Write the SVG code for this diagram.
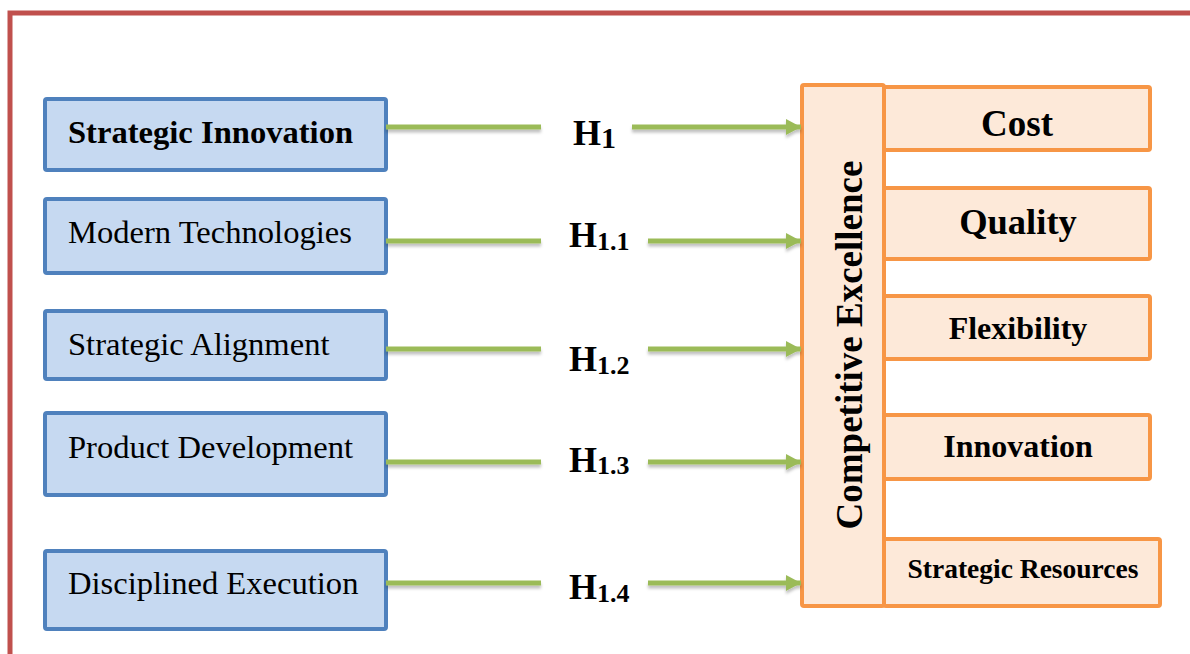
<svg xmlns="http://www.w3.org/2000/svg" width="1190" height="654" viewBox="0 0 1190 654">
<style>
.frame{fill:none;stroke:#C0504D;stroke-width:5}
.ind{fill:#C6D9F1;stroke:#4F81BD;stroke-width:4}
.dep{fill:#FDE9D9;stroke:#F79646;stroke-width:4}
.t{font-family:"Liberation Serif","Times New Roman",serif;fill:#000}
.reg{font-size:32.6px}
.bold{font-weight:bold}
.conn{stroke:#9BBB59;stroke-width:5;fill:none}
.hl{font-family:"Liberation Serif","Times New Roman",serif;font-weight:bold;font-size:36px;fill:#000}
</style>
<defs>
<marker id="ah" markerWidth="16" markerHeight="16" viewBox="0 0 16 16" refX="15" refY="8" orient="auto" markerUnits="userSpaceOnUse">
<path d="M0,0 L15,8 L0,16 Z" fill="#9BBB59"/>
</marker>
<filter id="sh" x="-5%" y="-50%" width="110%" height="250%">
<feDropShadow dx="0" dy="3" stdDeviation="1.5" flood-color="#000" flood-opacity="0.25"/>
</filter>
</defs>
<rect width="1190" height="654" fill="#fff"/>
<path class="frame" d="M10,660 L10,13 L1200,13"/>

<g id="strategic-innovation">
<rect class="ind" x="45" y="99" width="341" height="71" rx="2"/>
<text class="t reg bold" x="68" y="143" font-size="32">Strategic Innovation</text>
</g>
<g id="modern-technologies">
<rect class="ind" x="45" y="199" width="341" height="74" rx="2"/>
<text class="t reg" x="68" y="243">Modern Technologies</text>
</g>
<g id="strategic-alignment">
<rect class="ind" x="45" y="311" width="341" height="68" rx="2"/>
<text class="t reg" x="68" y="355">Strategic Alignment</text>
</g>
<g id="product-development">
<rect class="ind" x="45" y="413" width="341" height="82" rx="2"/>
<text class="t reg" x="68" y="458">Product Development</text>
</g>
<g id="disciplined-execution">
<rect class="ind" x="45" y="551" width="341" height="78" rx="2"/>
<text class="t reg" x="68" y="594">Disciplined Execution</text>
</g>

<g id="competitive-excellence">
<rect class="dep" x="802" y="85" width="82" height="521" rx="2"/>
<text class="t bold" font-size="37" text-anchor="middle" transform="translate(862,345) rotate(-90)">Competitive Excellence</text>
</g>
<g id="cost">
<rect class="dep" x="884" y="87" width="266" height="63" rx="2"/>
<text class="t bold" font-size="37" text-anchor="middle" x="1017" y="136">Cost</text>
</g>
<g id="quality">
<rect class="dep" x="884" y="188" width="266" height="71" rx="2"/>
<text class="t bold" font-size="36.5" text-anchor="middle" x="1018" y="234">Quality</text>
</g>
<g id="flexibility">
<rect class="dep" x="884" y="296" width="266" height="63" rx="2"/>
<text class="t bold" font-size="32" text-anchor="middle" x="1018" y="339">Flexibility</text>
</g>
<g id="innovation">
<rect class="dep" x="884" y="415" width="266" height="64" rx="2"/>
<text class="t bold" font-size="32" text-anchor="middle" x="1018" y="457">Innovation</text>
</g>
<g id="strategic-resources">
<rect class="dep" x="884" y="539" width="276" height="67" rx="2"/>
<text class="t bold" font-size="27.5" text-anchor="middle" x="1023" y="578">Strategic Resources</text>
</g>

<g id="connectors" filter="url(#sh)">
<line class="conn" x1="386" y1="127" x2="541" y2="127"/>
<line class="conn" x1="632" y1="127" x2="801" y2="127" marker-end="url(#ah)"/>
<line class="conn" x1="386" y1="241" x2="541" y2="241"/>
<line class="conn" x1="648" y1="241" x2="801" y2="241" marker-end="url(#ah)"/>
<line class="conn" x1="386" y1="349" x2="541" y2="349"/>
<line class="conn" x1="648" y1="349" x2="801" y2="349" marker-end="url(#ah)"/>
<line class="conn" x1="386" y1="462" x2="541" y2="462"/>
<line class="conn" x1="648" y1="462" x2="801" y2="462" marker-end="url(#ah)"/>
<line class="conn" x1="386" y1="583" x2="541" y2="583"/>
<line class="conn" x1="648" y1="583" x2="801" y2="583" marker-end="url(#ah)"/>
</g>
<g id="connector-labels">
<text class="hl" x="573" y="145">H<tspan font-size="30" dy="3">1</tspan></text>
<text class="hl" x="569" y="247">H<tspan font-size="26" dy="3">1.1</tspan></text>
<text class="hl" x="569" y="371">H<tspan font-size="26" dy="3">1.2</tspan></text>
<text class="hl" x="569" y="472">H<tspan font-size="26" dy="2">1.3</tspan></text>
<text class="hl" x="569" y="599">H<tspan font-size="26" dy="3">1.4</tspan></text>
</g>
</svg>
